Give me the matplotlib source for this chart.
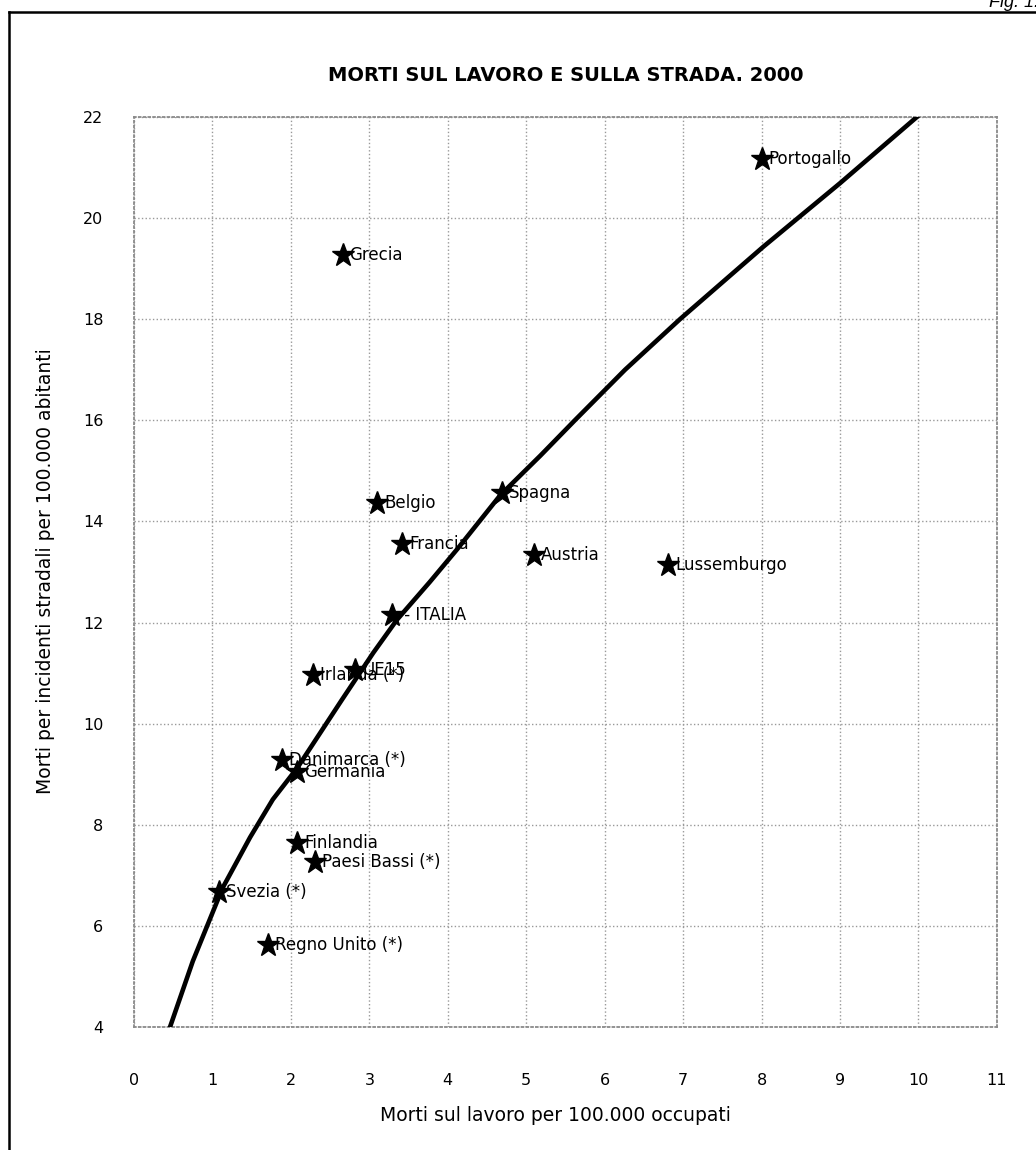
import matplotlib.pyplot as plt
from matplotlib.lines import Line2D

# values
paesi = ['Portogallo', 'Grecia', 'Spagna', 'Belgio', 'Francia', 'Austria',
         'Lussemburgo', ' - ITALIA', 'UE15', 'Irlanda (*)', 'Danimarca (*)',
         'Germania', 'Finlandia', 'Paesi Bassi (*)', 'Svezia (*)', 'Regno Unito (*)']
morti_lavoro = [8.00, 2.66, 4.69, 3.10, 3.42, 5.10, 6.81, 3.29, 2.82, 2.28,
                1.89, 2.08, 2.08, 2.31, 1.08, 1.71]
morti_strada = [21.17, 19.27, 14.56, 14.36, 13.55, 13.34, 13.14, 12.15, 11.06,
                10.96, 9.28, 9.04, 7.64, 7.26, 6.67, 5.62]

# trend line, points
trend_x = [0.46, 0.75, 1.13, 1.48, 1.77, 2.08, 2.65, 3.05, 3.35, 3.77, 4.12,
           4.67, 5.18, 5.62, 6.26, 6.96, 8.02, 9.0, 9.98]
trend_y = [4.0, 5.3, 6.75, 7.75, 8.5, 9.12, 10.47, 11.4, 12.05, 12.8, 13.45,
           14.52, 15.3, 16.0, 17.0, 18.0, 19.43, 20.69, 22.0]

x_ticks = list(range(0, 12))
y_ticks = list(range(4, 23, 2))

plt.rcParams['font.family'] = ['DejaVu Sans']

fig = plt.figure(figsize=(10.36, 11.5), dpi=100)
ax = fig.add_axes([0.1293, 0.1070, 0.8330, 0.7913])

ax.plot(trend_x, trend_y, color='black', linewidth=3.3, zorder=4)
ax.plot(morti_lavoro, morti_strada, linestyle='none', marker='*', markersize=17,
        color='black', zorder=5)
for nome, x, y in zip(paesi, morti_lavoro, morti_strada):
    ax.annotate(nome, (x, y), xytext=(5, 0), textcoords='offset points',
                ha='left', va='center', fontsize=12, zorder=3)

ax.set_xlim(0, 11)
ax.set_ylim(4, 22)
ax.set_xticks(x_ticks)
ax.set_yticks(y_ticks)
ax.tick_params(length=0, labelsize=11.5)
ax.tick_params(axis='x', pad=33)
ax.tick_params(axis='y', pad=22)
ax.grid(True, color='#999999', linestyle=':', linewidth=1.0)
for s in ax.spines.values():
    s.set_color('#8a8a8a')
    s.set_linestyle(':')
    s.set_linewidth(1.3)

ax.set_title('MORTI SUL LAVORO E SULLA STRADA. 2000', fontsize=14,
             fontweight='bold', pad=26)
fig.text(0.536, 0.030, 'Morti sul lavoro per 100.000 occupati', ha='center',
         va='center', fontsize=13.5)
fig.text(0.044, 0.503, 'Morti per incidenti stradali per 100.000 abitanti',
         rotation=90, ha='center', va='center', fontsize=13.5)

# outer frame and page label
fig.add_artist(Line2D([9 / 1036, 9 / 1036], [0, 1 - 12 / 1150], color='black',
                      linewidth=1.8, transform=fig.transFigure))
fig.add_artist(Line2D([9 / 1036, 1], [1 - 12 / 1150, 1 - 12 / 1150], color='black',
                      linewidth=1.8, transform=fig.transFigure))
fig.text(1.003, 1 - 7 / 1150, 'Fig. 1.', ha='right', va='baseline', fontsize=13,
         style='italic', family=['Liberation Sans', 'DejaVu Sans'])

fig.savefig('out.png', dpi=100)
